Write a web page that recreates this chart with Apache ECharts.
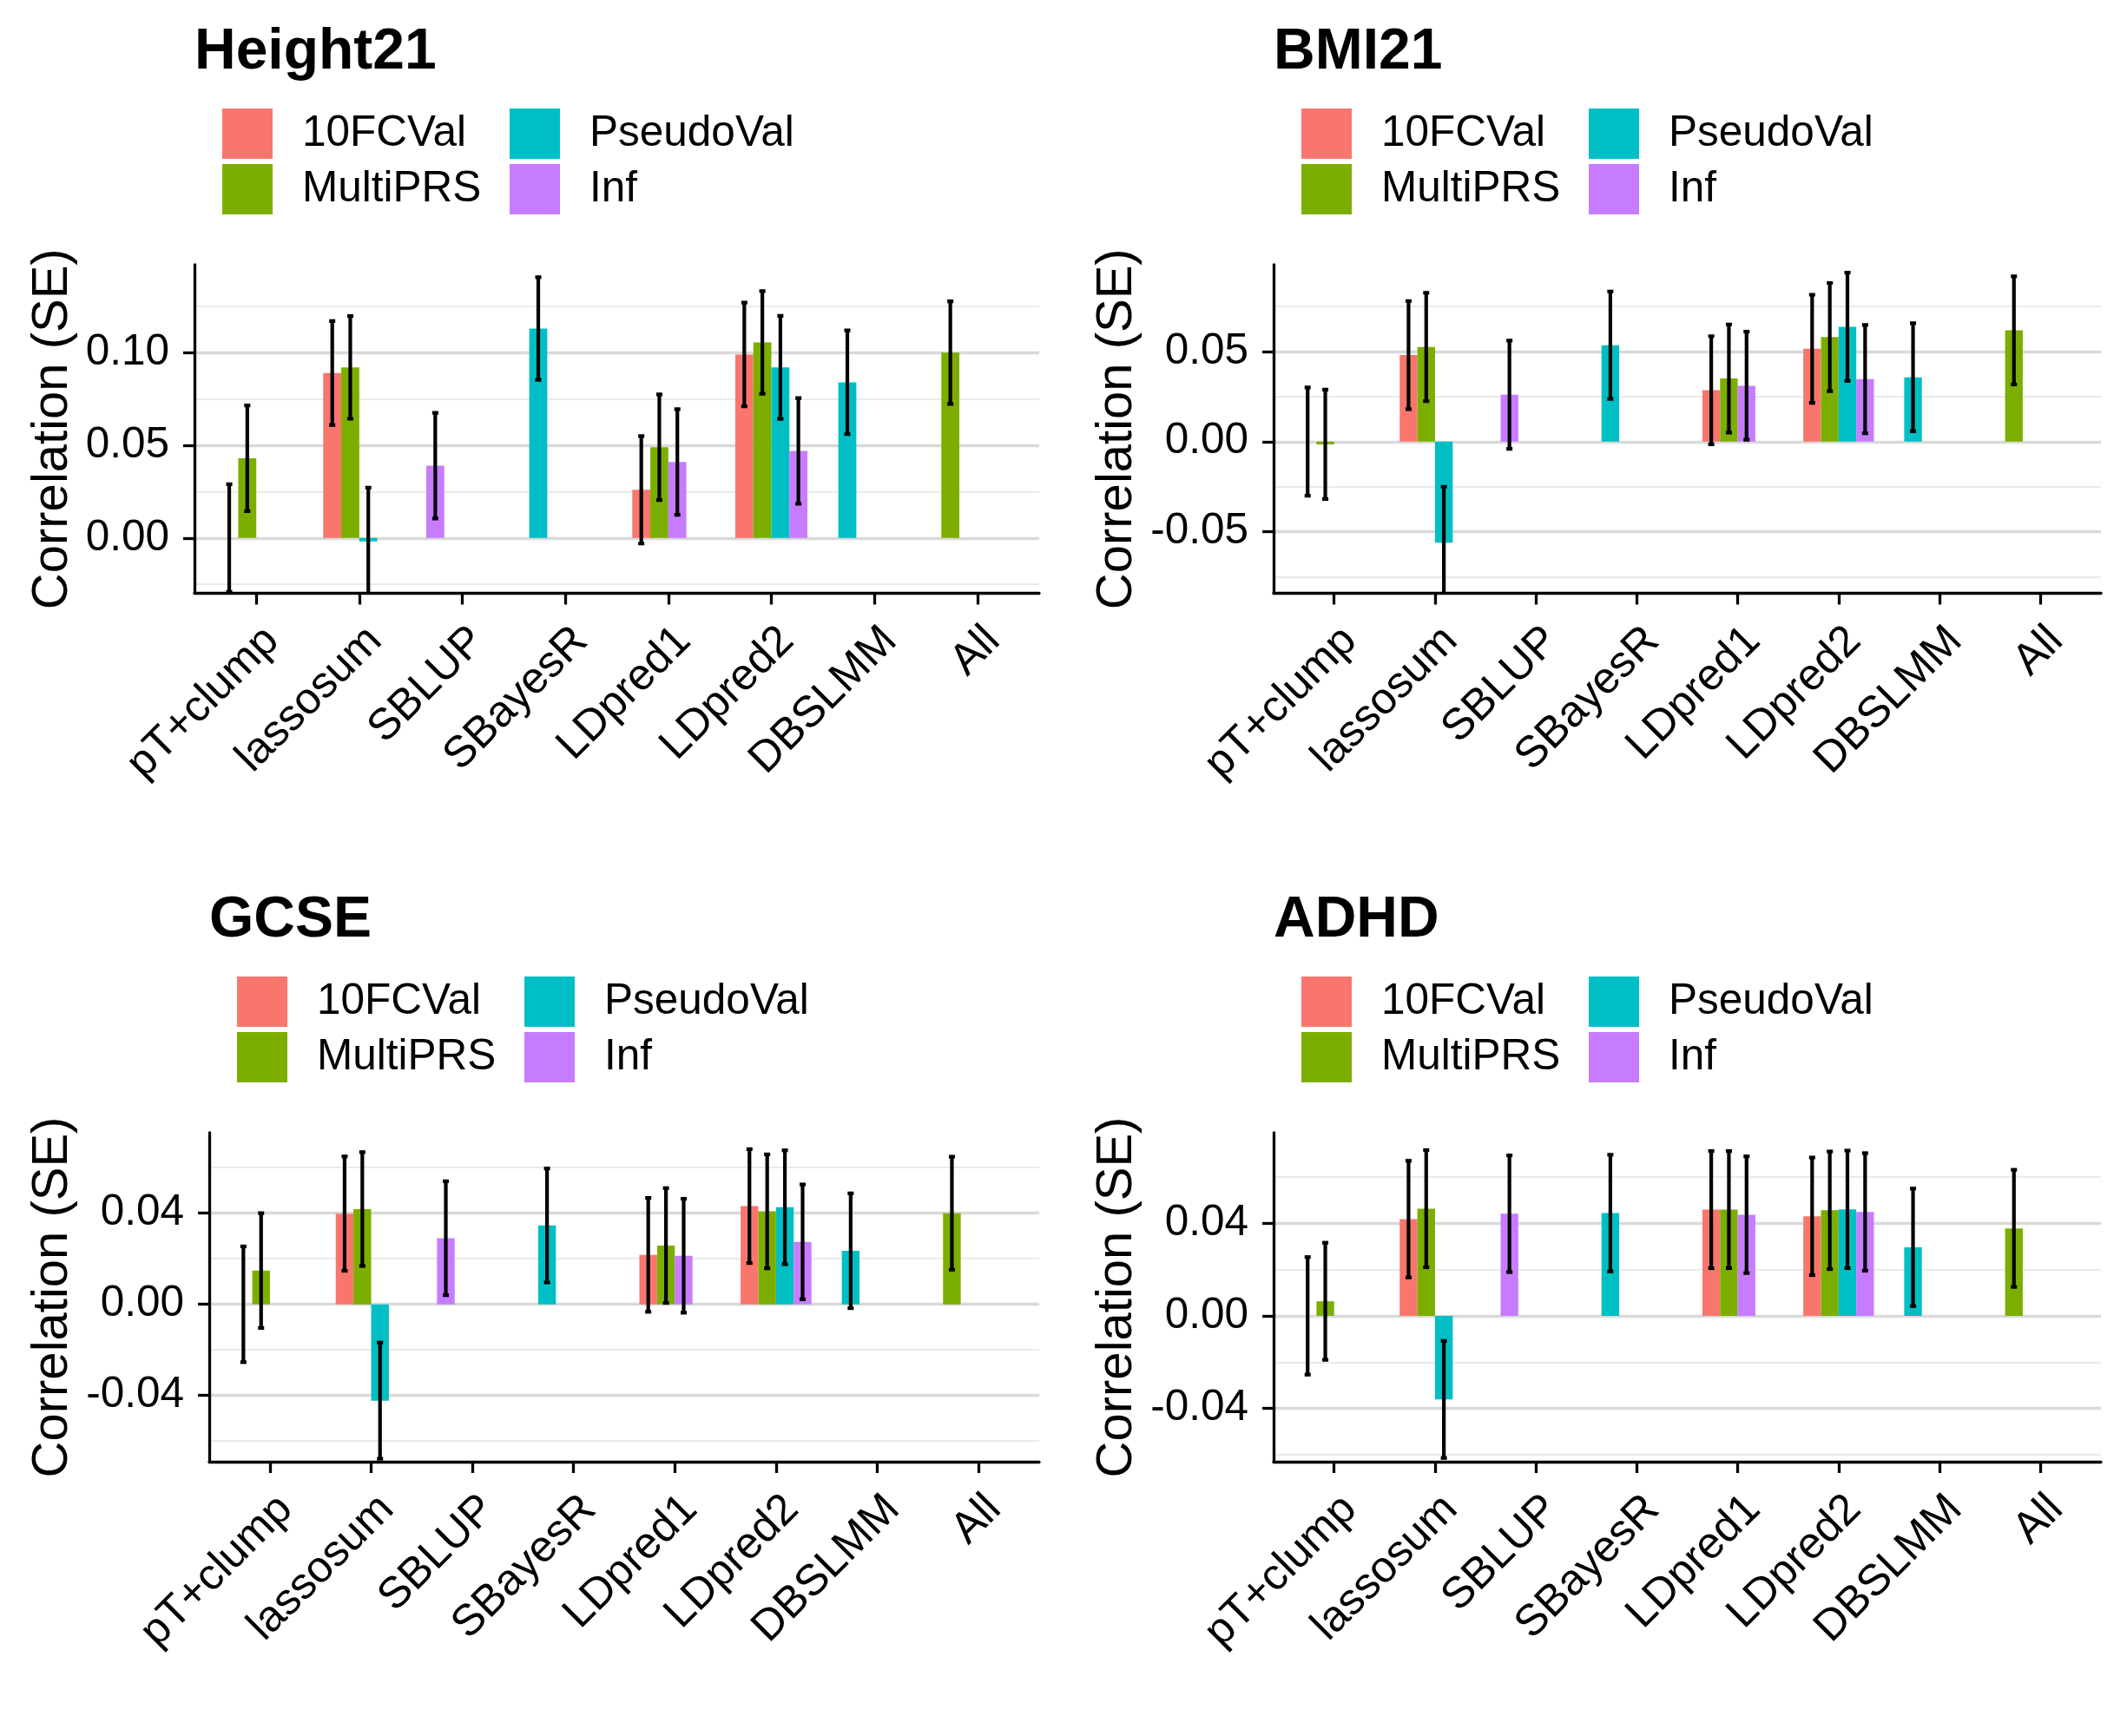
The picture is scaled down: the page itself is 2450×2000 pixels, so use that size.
<!DOCTYPE html>
<html><head><meta charset="utf-8">
<script src="https://cdn.jsdelivr.net/npm/echarts@6/dist/echarts.min.js"></script>
<style>html,body{margin:0;padding:0;background:#fff}#c{width:2450px;height:2000px}</style>
</head><body><div id="c"></div>
<script>
// ---- data ----
const categories = ['pT+clump','lassosum','SBLUP','SBayesR','LDpred1','LDpred2','DBSLMM','All'];
const methods = ['10FCVal','MultiPRS','PseudoVal','Inf'];
const colors = ['#F8766D','#7CAE00','#00BFC4','#C77CFF'];

// Height21
const height_10FCVal    = [0.000, 0.089, null, null, 0.026, 0.099, null, null];
const height_10FCVal_se = [0.029, 0.028, null, null, 0.029, 0.028, null, null];
const height_MultiPRS    = [0.043, 0.092, null, null, 0.049, 0.1055, null, 0.100];
const height_MultiPRS_se = [0.0285, 0.0277, null, null, 0.0285, 0.0277, null, 0.0277];
const height_PseudoVal    = [null, -0.0018, null, 0.113, null, 0.092, 0.084, null];
const height_PseudoVal_se = [null, 0.029, null, 0.0277, null, 0.0278, 0.028, null];
const height_Inf    = [null, null, 0.039, null, 0.041, 0.047, null, null];
const height_Inf_se = [null, null, 0.0285, null, 0.0285, 0.0285, null, null];

// BMI21
const bmi_10FCVal    = [0.000, 0.048, null, null, 0.0285, 0.0515, null, null];
const bmi_10FCVal_se = [0.030, 0.030, null, null, 0.030, 0.030, null, null];
const bmi_MultiPRS    = [-0.0015, 0.0525, null, null, 0.035, 0.058, null, 0.0617];
const bmi_MultiPRS_se = [0.0303, 0.030, null, null, 0.030, 0.030, null, 0.030];
const bmi_PseudoVal    = [null, -0.056, null, 0.0535, null, 0.0637, 0.0357, null];
const bmi_PseudoVal_se = [null, 0.031, null, 0.0298, null, 0.030, 0.030, null];
const bmi_Inf    = [null, null, 0.026, null, 0.031, 0.0347, null, null];
const bmi_Inf_se = [null, null, 0.030, null, 0.030, 0.030, null, null];

// GCSE
const gcse_10FCVal    = [0.000, 0.0398, null, null, 0.0217, 0.0431, null, null];
const gcse_10FCVal_se = [0.0254, 0.0251, null, null, 0.025, 0.025, null, null];
const gcse_MultiPRS    = [0.0148, 0.0418, null, null, 0.0258, 0.0408, null, 0.040];
const gcse_MultiPRS_se = [0.0252, 0.025, null, null, 0.0252, 0.025, null, 0.0248];
const gcse_PseudoVal    = [null, -0.0423, null, 0.0346, null, 0.0426, 0.0235, null];
const gcse_PseudoVal_se = [null, 0.0255, null, 0.025, null, 0.025, 0.0252, null];
const gcse_Inf    = [null, null, 0.029, null, 0.0213, 0.0274, null, null];
const gcse_Inf_se = [null, null, 0.025, null, 0.025, 0.0252, null, null];

// ADHD
const adhd_10FCVal    = [0.000, 0.0418, null, null, 0.0459, 0.043, null, null];
const adhd_10FCVal_se = [0.0254, 0.0252, null, null, 0.0253, 0.0254, null, null];
const adhd_MultiPRS    = [0.0063, 0.0463, null, null, 0.0459, 0.0456, null, 0.0378];
const adhd_MultiPRS_se = [0.0253, 0.0253, null, null, 0.0253, 0.0254, null, 0.0253];
const adhd_PseudoVal    = [null, -0.0361, null, 0.0444, null, 0.046, 0.0296, null];
const adhd_PseudoVal_se = [null, 0.0253, null, 0.0252, null, 0.0254, 0.0254, null];
const adhd_Inf    = [null, null, 0.0441, null, 0.0437, 0.0449, null, null];
const adhd_Inf_se = [null, null, 0.0252, null, 0.0252, 0.0254, null, null];

// y tick values
const height_major = [0, 0.05, 0.10];
const height_minor = [-0.025, 0.025, 0.075, 0.125];
const bmi_major = [-0.05, 0, 0.05];
const bmi_minor = [-0.075, -0.025, 0.025, 0.075];
const gcse_major = [-0.04, 0, 0.04];
const gcse_minor = [-0.06, -0.02, 0.02, 0.06];
const adhd_major = [-0.04, 0, 0.04];
const adhd_minor = [-0.06, -0.02, 0.02, 0.06];

// ---- layout ----
const FONT = '"Liberation Sans", Arial, Helvetica, sans-serif';
const GROUP_W = 0.7, SLOT_W = 0.175;

const panels = [
  {title:'Height21', vals:[height_10FCVal,height_MultiPRS,height_PseudoVal,height_Inf],
   ses:[height_10FCVal_se,height_MultiPRS_se,height_PseudoVal_se,height_Inf_se],
   yMin:-0.0298, yMax:0.1474, major:height_major, minor:height_minor,
   left:224, top:305, width:973, height:378.5, nameGap:134},
  {title:'BMI21', vals:[bmi_10FCVal,bmi_MultiPRS,bmi_PseudoVal,bmi_Inf],
   ses:[bmi_10FCVal_se,bmi_MultiPRS_se,bmi_PseudoVal_se,bmi_Inf_se],
   yMin:-0.0841, yMax:0.0981, major:bmi_major, minor:bmi_minor,
   left:1467, top:305, width:953, height:378.5, nameGap:151},
  {title:'GCSE', vals:[gcse_10FCVal,gcse_MultiPRS,gcse_PseudoVal,gcse_Inf],
   ses:[gcse_10FCVal_se,gcse_MultiPRS_se,gcse_PseudoVal_se,gcse_Inf_se],
   yMin:-0.0691, yMax:0.0753, major:gcse_major, minor:gcse_minor,
   left:241, top:1305, width:956, height:379, nameGap:151},
  {title:'ADHD', vals:[adhd_10FCVal,adhd_MultiPRS,adhd_PseudoVal,adhd_Inf],
   ses:[adhd_10FCVal_se,adhd_MultiPRS_se,adhd_PseudoVal_se,adhd_Inf_se],
   yMin:-0.0630, yMax:0.0791, major:adhd_major, minor:adhd_minor,
   left:1467, top:1305, width:953, height:379, nameGap:151}
];

function renderBarErr(params, api) {
  const cat = api.value(0), v = api.value(1), se = api.value(2), slot = api.value(3);
  const x0 = cat - GROUP_W / 2 + slot * SLOT_W;
  const p0 = api.coord([x0, 0]);
  const p1 = api.coord([x0 + SLOT_W, v]);
  const xc = (p0[0] + p1[0]) / 2;
  const yHi = api.coord([cat, v + se])[1];
  const yLo = api.coord([cat, v - se])[1];
  const cs = {stroke:'#000', lineWidth:4.2};
  return {type:'group', children:[
    {type:'rect', shape:{x:p0[0], y:Math.min(p0[1], p1[1]), width:p1[0] - p0[0], height:Math.abs(p1[1] - p0[1])},
     style:{fill:api.visual('color')}},
    {type:'line', shape:{x1:xc, y1:yHi, x2:xc, y2:yLo}, style:cs},
    {type:'line', shape:{x1:xc - 3.5, y1:yHi, x2:xc + 3.5, y2:yHi}, style:cs},
    {type:'line', shape:{x1:xc - 3.5, y1:yLo, x2:xc + 3.5, y2:yLo}, style:cs}
  ]};
}

const option = {
  backgroundColor:'#fff',
  animation:false,
  textStyle:{fontFamily:FONT},
  title:[], legend:[], grid:[], xAxis:[], yAxis:[], series:[]
};

panels.forEach((p, i) => {
  option.title.push({text:p.title, left:p.left, top:p.top - 277, padding:0,
    textStyle:{fontSize:66, fontWeight:'bold', color:'#000', fontFamily:FONT}});
  methods.forEach((m, k) => {
    option.legend.push({data:[m], left:p.left + 32 + (k >= 2 ? 331 : 0), top:p.top - 180 + (k % 2) * 64,
      padding:0, itemWidth:58, itemHeight:58, icon:'rect', itemGap:0,
      textStyle:{fontSize:49.5, color:'#000', fontFamily:FONT, padding:[14,0,0,29]}});
  });
  option.grid.push({left:p.left, top:p.top, width:p.width, height:p.height, containLabel:false});
  option.xAxis.push({gridIndex:i, type:'value', min:0.4, max:8.6,
    axisLine:{show:true, onZero:false, lineStyle:{color:'#000', width:3.3}},
    axisTick:{show:true, customValues:[1,2,3,4,5,6,7,8], length:13, lineStyle:{color:'#000', width:3.3}},
    axisLabel:{show:true, customValues:[1,2,3,4,5,6,7,8], rotate:45, margin:29, align:'right', verticalAlign:'top',
      fontSize:50.5, color:'#000', fontFamily:FONT,
      formatter:(v) => categories[Math.round(v) - 1]},
    splitLine:{show:false}});
  option.yAxis.push({gridIndex:i, type:'value', min:p.yMin, max:p.yMax,
    name:'Correlation (SE)', nameLocation:'middle', nameGap:p.nameGap,
    nameTextStyle:{fontSize:58, color:'#000', fontFamily:FONT},
    axisLine:{show:true, onZero:false, lineStyle:{color:'#000', width:3.3}},
    axisTick:{show:true, customValues:p.major, length:13, lineStyle:{color:'#000', width:3.3}},
    axisLabel:{show:true, customValues:p.major, margin:29, fontSize:49.5, color:'#000', fontFamily:FONT,
      formatter:(v) => v.toFixed(2)},
    splitLine:{show:true, lineStyle:{color:'#D9D9D9', width:3.3}}});
  option.yAxis.push({gridIndex:i, type:'value', min:p.yMin, max:p.yMax,
    axisLine:{show:false}, axisTick:{show:false, customValues:p.minor},
    axisLabel:{show:false, customValues:p.minor},
    splitLine:{show:true, lineStyle:{color:'#E3E3E3', width:1.7}}});
  methods.forEach((m, k) => {
    const rows = [];
    categories.forEach((c, ci) => {
      const v = p.vals[k][ci];
      if (v === null) return;
      let slot = 0;
      for (let j = 0; j < k; j++) if (p.vals[j][ci] !== null) slot++;
      rows.push([ci + 1, v, p.ses[k][ci], slot]);
    });
    option.series.push({type:'custom', name:m, xAxisIndex:i, yAxisIndex:2 * i, clip:true,
      itemStyle:{color:colors[k]}, encode:{x:0, y:1}, data:rows, renderItem:renderBarErr});
  });
});

const chart = echarts.init(document.getElementById('c'), null, {renderer:'canvas'});
chart.setOption(option);
</script></body></html>
